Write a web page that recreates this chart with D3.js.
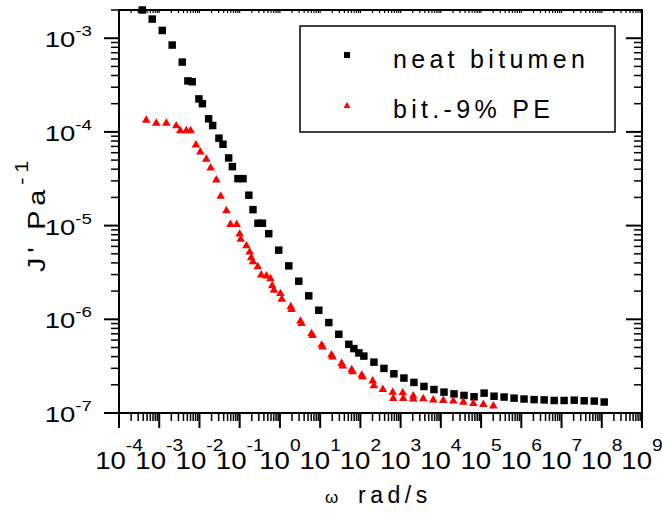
<!DOCTYPE html>
<html>
<head>
<meta charset="utf-8">
<script src="https://cdn.jsdelivr.net/npm/d3@7"></script>
<style>
body { margin: 0; background: #ffffff; }
svg { display: block; }
text { font-family: "Liberation Sans", Arial, sans-serif; fill: #000000; }
</style>
</head>
<body>
<div id="chart"></div>
<script>
// neat bitumen (squares)
var neat_omega = [3.8e-4, 6.7e-4, 1.19e-3, 2.1e-3, 3.74e-3, 5.16e-3, 6.6e-3, 9.7e-3, 1.18e-2, 1.69e-2,
	2.13e-2, 3.05e-2, 3.84e-2, 5.32e-2, 6.58e-2, 9.06e-2, 0.121, 0.169, 0.214, 0.285,
	0.367, 0.527, 0.935, 1.66, 2.94, 5.21, 9.25, 16.4, 29.1, 51.6,
	68.8, 91.6, 122, 217, 385, 681, 1208, 2143, 3802, 6745,
	11970, 21230, 37670, 66830, 1.19e5, 2.10e5, 3.73e5, 6.62e5, 1.17e6, 2.08e6,
	3.70e6, 6.56e6, 1.16e7, 2.07e7, 3.66e7, 6.50e7, 1.15e8];
var neat_j = [2.0e-3, 1.6e-3, 1.21e-3, 8.45e-4, 5.56e-4, 3.5e-4, 3.43e-4, 2.25e-4, 2.0e-4, 1.38e-4,
	1.17e-4, 8.57e-5, 7.38e-5, 5.27e-5, 4.26e-5, 3.17e-5, 3.17e-5, 2.11e-5, 1.48e-5, 1.06e-5,
	1.06e-5, 8.2e-6, 5.47e-6, 3.72e-6, 2.55e-6, 1.78e-6, 1.25e-6, 9.23e-7, 6.92e-7, 5.41e-7,
	4.87e-7, 4.38e-7, 4.05e-7, 3.49e-7, 2.99e-7, 2.62e-7, 2.36e-7, 2.12e-7, 1.92e-7, 1.78e-7,
	1.67e-7, 1.60e-7, 1.54e-7, 1.49e-7, 1.63e-7, 1.51e-7, 1.48e-7, 1.44e-7, 1.41e-7, 1.39e-7,
	1.38e-7, 1.36e-7, 1.36e-7, 1.37e-7, 1.35e-7, 1.34e-7, 1.31e-7];

// bit.-9% PE (triangles)
var pe_omega = [4.75e-4, 8.43e-4, 1.50e-3, 2.65e-3, 3.34e-3, 4.71e-3, 6.03e-3, 8.17e-3, 1.05e-2, 1.48e-2,
	1.90e-2, 2.63e-2, 3.37e-2, 4.67e-2, 5.90e-2, 8.41e-2, 0.100, 0.106, 0.147, 0.177,
	0.193, 0.214, 0.281, 0.343, 0.461, 0.581, 0.644, 0.710, 1.03, 1.11,
	1.86, 1.95, 3.24, 3.44, 6.10, 6.46, 10.9, 11.5, 19.2, 20.3,
	34.2, 36.1, 60.8, 64.0, 108, 114, 202, 217, 361, 634,
	656, 1125, 1164, 2061, 2061, 3656, 6486, 11510, 20420, 36220,
	64270, 1.14e5, 2.02e5];
var pe_j = [1.33e-4, 1.24e-4, 1.24e-4, 1.16e-4, 1.03e-4, 1.03e-4, 1.03e-4, 7.26e-5, 6.11e-5, 5.12e-5,
	4.12e-5, 3.07e-5, 2.05e-5, 1.44e-5, 1.03e-5, 1.03e-5, 8.11e-6, 7.13e-6, 6.08e-6, 5.21e-6,
	4.55e-6, 4.10e-6, 3.64e-6, 2.97e-6, 2.90e-6, 2.71e-6, 2.28e-6, 2.04e-6, 1.88e-6, 1.64e-6,
	1.36e-6, 1.27e-6, 9.57e-7, 8.99e-7, 7.03e-7, 6.70e-7, 5.30e-7, 5.06e-7, 4.17e-7, 3.97e-7,
	3.38e-7, 3.18e-7, 2.90e-7, 2.76e-7, 2.53e-7, 2.42e-7, 2.20e-7, 1.95e-7, 1.78e-7, 1.66e-7,
	1.43e-7, 1.64e-7, 1.43e-7, 1.52e-7, 1.41e-7, 1.42e-7, 1.38e-7, 1.36e-7, 1.34e-7, 1.30e-7,
	1.26e-7, 1.23e-7, 1.19e-7];

var x_exps = [-4, -3, -2, -1, 0, 1, 2, 3, 4, 5, 6, 7, 8, 9];
var y_exps = [-7, -6, -5, -4, -3];
var legend_names = ["neat bitumen", "bit.-9% PE"];
var x_domain = [1e-4, 1e9];
var y_domain = [1e-7, 2e-3];

var width = 662;
var height = 513;
var margin = {left: 119, right: 20, top: 10, bottom: 100};

var x_scale = d3.scaleLog()
	.domain(x_domain)
	.range([margin.left, width - margin.right]);
var y_scale = d3.scaleLog()
	.domain(y_domain)
	.range([height - margin.bottom, margin.top]);

var svg = d3.select("#chart").append("svg")
	.attr("width", width)
	.attr("height", height);

function minorTicks(scale) {
	var d = scale.domain();
	var lo = Math.floor(Math.log10(d[0]));
	var hi = Math.ceil(Math.log10(d[1]));
	var out = [];
	for(var e = lo; e < hi; e++) {
		for(var k = 2; k < 10; k++) {
			var v = k * Math.pow(10, e);
			if(v >= d[0] && v <= d[1] * 1.0001) out.push(v);
		}
	}
	return out;
}

var x_major = x_exps.map(function(e) { return Math.pow(10, e); });
var y_major = y_exps.map(function(e) { return Math.pow(10, e); });
var x_minor = minorTicks(x_scale);
var y_minor = minorTicks(y_scale);

var x0 = margin.left, x1 = width - margin.right;
var y0 = height - margin.bottom, y1 = margin.top;

function drawTicks(axis, transform, values, size, sw) {
	svg.append("g")
		.attr("transform", transform)
		.call(axis.tickValues(values).tickSize(size).tickSizeOuter(0).tickFormat("").offset(0))
		.call(function(g) { g.select(".domain").remove(); })
		.selectAll("line")
		.attr("stroke", "#000")
		.attr("stroke-width", sw);
}

// left (outward), bottom (outward), right and top (inward)
drawTicks(d3.axisLeft(y_scale), "translate(" + x0 + ",0)", y_minor, 8, 1.5);
drawTicks(d3.axisLeft(y_scale), "translate(" + x0 + ",0)", y_major, 15, 2);
drawTicks(d3.axisBottom(x_scale), "translate(0," + y0 + ")", x_minor, 8, 1.5);
drawTicks(d3.axisBottom(x_scale), "translate(0," + y0 + ")", x_major, 15, 2);
drawTicks(d3.axisLeft(y_scale), "translate(" + x1 + ",0)", y_minor, 8, 1.5);
drawTicks(d3.axisLeft(y_scale), "translate(" + x1 + ",0)", y_major, 16, 2);
drawTicks(d3.axisBottom(x_scale), "translate(0," + y1 + ")", x_minor, 3, 1.2);
drawTicks(d3.axisBottom(x_scale), "translate(0," + y1 + ")", x_major, 3, 1.2);

svg.append("rect")
	.attr("x", x0)
	.attr("y", y1)
	.attr("width", x1 - x0)
	.attr("height", y0 - y1)
	.attr("fill", "none")
	.attr("stroke", "#000")
	.attr("stroke-width", 2);

// tick labels 10^n
function powLabel(x, y, e, anchor, big, small, rise, sx) {
	var t = svg.append("text")
		.attr("transform", "translate(" + x + "," + y + ") scale(" + sx + ",1)")
		.attr("text-anchor", anchor);
	t.append("tspan").attr("font-size", big).text("10");
	t.append("tspan").attr("font-size", small).attr("dy", -rise).text(e);
}

x_exps.forEach(function(e) {
	powLabel(x_scale(Math.pow(10, e)), 469, e, "middle", 23, 16, 18, 1.2);
});
y_exps.forEach(function(e) {
	powLabel(92, y_scale(Math.pow(10, e)) + 9, e, "end", 22, 15, 11, 1.25);
});

// axis titles
svg.append("text")
	.attr("x", 325)
	.attr("y", 503)
	.attr("font-size", 17)
	.text("\u03c9");
svg.append("text")
	.attr("x", 358)
	.attr("y", 503)
	.attr("font-size", 23)
	.attr("letter-spacing", 4.5)
	.text("rad/s");

var y_title = svg.append("text")
	.attr("transform", "translate(45,214) rotate(-90) scale(1.2,1)")
	.attr("text-anchor", "middle")
	.attr("letter-spacing", 4);
y_title.append("tspan").attr("font-size", 24).text("J' Pa");
y_title.append("tspan").attr("font-size", 18).attr("dy", -17).text("-1");

// data
var sq = d3.symbol().type(d3.symbolSquare).size(56);
var tri = d3.symbol().type(d3.symbolTriangle).size(32);

svg.append("g").selectAll("path")
	.data(neat_omega)
	.enter()
	.append("path")
	.attr("d", sq)
	.attr("fill", "#000")
	.attr("transform", function(d, i) {
		return "translate(" + x_scale(d) + "," + y_scale(neat_j[i]) + ")";
	});

svg.append("g").selectAll("path")
	.data(pe_omega)
	.enter()
	.append("path")
	.attr("d", tri)
	.attr("fill", "#ff0000")
	.attr("transform", function(d, i) {
		return "translate(" + x_scale(d) + "," + y_scale(pe_j[i]) + ")";
	});

// legend
var legend = svg.append("g").attr("class", "legend");
legend.append("rect")
	.attr("x", 300)
	.attr("y", 26)
	.attr("width", 315)
	.attr("height", 106)
	.attr("fill", "#fff")
	.attr("stroke", "#000")
	.attr("stroke-width", 1.5);
legend.append("path")
	.attr("d", d3.symbol().type(d3.symbolSquare).size(36))
	.attr("fill", "#000")
	.attr("transform", "translate(347,55)");
legend.append("path")
	.attr("d", d3.symbol().type(d3.symbolTriangle).size(22))
	.attr("fill", "#ff0000")
	.attr("transform", "translate(347,106)");
legend.selectAll("text.legend_text")
	.data(legend_names)
	.enter()
	.append("text")
	.attr("class", "legend_text")
	.attr("x", 393)
	.attr("y", function(d, i) { return 68 + i * 50; })
	.attr("font-size", 25)
	.attr("letter-spacing", 4.3)
	.text(function(d) { return d; });
</script>
</body>
</html>
